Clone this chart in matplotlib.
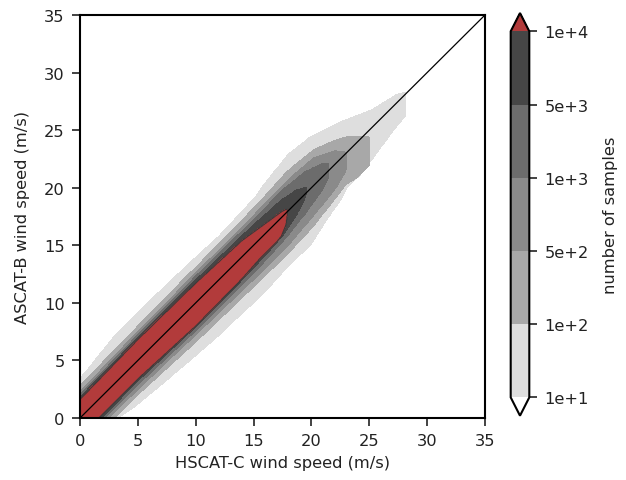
import numpy as np
import matplotlib
matplotlib.use("Agg")
import matplotlib.pyplot as plt
from matplotlib.colors import ListedColormap, BoundaryNorm

# ---- data ----
levels = [1e1, 1e2, 5e2, 1e3, 5e3, 1e4]
tick_labels = ["1e+1", "1e+2", "5e+2", "1e+3", "5e+3", "1e+4"]
fill_colors = ["#dedede", "#a8a8a8", "#8a8a8a", "#6c6c6c", "#464646"]
under_color = "#ffffff"
over_color = "#b23b3b"

# Vertical extent (ASCAT-B speed, low/high) of each density region along HSCAT-C speed
x_1e1 = [0, 3.3, 5, 9.5, 12, 15, 16, 18, 19.9, 21.5, 22.5, 23, 25.1, 27.4, 28.1]
hi_1e1 = [3.4, 7.5, 9.2, 13.5, 15.8, 19.0, 20.4, 22.9, 24.4, 25.2, 25.7, 25.9, 26.7, 28.1, 28.3]
lo_1e1 = [-3.3, 0.0, 1.2, 5.0, 7.2, 10.0, 11.0, 13.2, 15.0, 17.5, 18.9, 19.9, 22.3, 25.4, 26.2]

x_1e2 = [0, 5, 10, 15, 18, 20.2, 22, 23, 24.0, 24.9, 25.0]
hi_1e2 = [2.8, 8.0, 13.1, 18.2, 21.5, 23.3, 24.1, 24.4, 24.5, 24.4, 24.4]
lo_1e2 = [-3.0, 2.0, 6.6, 11.4, 14.3, 16.7, 19.0, 20.3, 20.9, 21.9, 22.0]

x_5e2 = [0, 5, 10, 15, 18, 20.2, 22.0, 22.9, 23.0]
hi_5e2 = [2.3, 7.5, 12.6, 17.6, 20.7, 22.6, 23.2, 23.1, 23.1]
lo_5e2 = [-2.5, 2.5, 7.2, 12.0, 15.0, 17.6, 19.8, 21.3, 21.6]

x_1e3 = [0, 5, 10, 15, 17.5, 19.5, 21.0, 21.5]
hi_1e3 = [2.0, 7.2, 12.3, 17.2, 19.8, 21.4, 22.1, 22.1]
lo_1e3 = [-2.1, 2.9, 7.6, 12.6, 15.3, 17.8, 19.9, 21.0]

x_5e3 = [0, 5, 10, 15, 17.5, 18.7, 19.4, 19.6]
hi_5e3 = [1.8, 7.0, 12.0, 16.8, 19.0, 19.8, 20.0, 20.0]
lo_5e3 = [-1.9, 3.2, 7.9, 13.0, 15.8, 17.6, 19.0, 19.7]

x_1e4 = [0, 5, 10, 14, 15.5, 17.0, 17.4, 17.8, 17.9]
hi_1e4 = [1.6, 6.8, 11.7, 15.4, 16.5, 17.6, 17.9, 18.1, 18.1]
lo_1e4 = [-1.6, 3.4, 8.0, 12.1, 13.8, 15.3, 15.8, 16.8, 17.6]

region_values = [30, 200, 700, 2000, 7000, 20000]  # representative count inside each band

regions = [(x_1e1, hi_1e1, lo_1e1), (x_1e2, hi_1e2, lo_1e2), (x_5e2, hi_5e2, lo_5e2),
           (x_1e3, hi_1e3, lo_1e3), (x_5e3, hi_5e3, lo_5e3), (x_1e4, hi_1e4, lo_1e4)]

# ---- build field ----
gx = np.linspace(0, 35, 901)
X, Y = np.meshgrid(gx, gx)
Z = np.full_like(X, 3.0)
for (xk, hik, lok), val in zip(regions, region_values):
    hi = np.interp(X, xk, hik)
    lo = np.interp(X, xk, lok)
    inside = (X <= xk[-1]) & (Y < hi) & (Y > lo)
    Z[inside] = val

# ---- figure ----
fs = 11.7
fig = plt.figure(figsize=(6.26, 4.81), dpi=100)
ax = fig.add_axes([80 / 626, 62 / 481, 405 / 626, 403 / 481])
cax = fig.add_axes([510.7 / 626, 64.3 / 481, 18.6 / 626, 402.7 / 481])

ax.grid(True, color="#e6e6e6", linewidth=1.5)
ax.set_axisbelow(True)

cmap = ListedColormap(fill_colors)
cmap.set_under(under_color)
cmap.set_over(over_color)
norm = BoundaryNorm(levels, cmap.N)
cs = ax.contourf(X, Y, Z, levels=levels, cmap=cmap, norm=norm, extend="both")
ax.contour(X, Y, Z, levels=[1e4], colors=["#3a3a3a"], linewidths=0.8)

ax.plot([0, 35], [0, 35], color="black", linewidth=0.9)

ax.set_xlim(0, 35)
ax.set_ylim(0, 35)
ax.set_xticks(range(0, 36, 5))
ax.set_yticks(range(0, 36, 5))
ax.tick_params(labelsize=fs, length=6, width=1.2, pad=5, colors="#222222", labelcolor="#222222")
for s in ax.spines.values():
    s.set_linewidth(1.5)
ax.set_xlabel("HSCAT-C wind speed (m/s)", fontsize=fs, labelpad=5, color="#222222")
ax.set_ylabel("ASCAT-B wind speed (m/s)", fontsize=fs, labelpad=10, color="#222222")

cb = fig.colorbar(cs, cax=cax, ticks=levels)
cb.ax.set_yticklabels(tick_labels)
cb.ax.tick_params(labelsize=fs, length=6, width=1.2, pad=5, colors="#222222", labelcolor="#222222")
cb.outline.set_linewidth(1.5)
cb.set_label("number of samples", fontsize=fs, labelpad=10, color="#222222")

fig.savefig("out.png", dpi=100)
